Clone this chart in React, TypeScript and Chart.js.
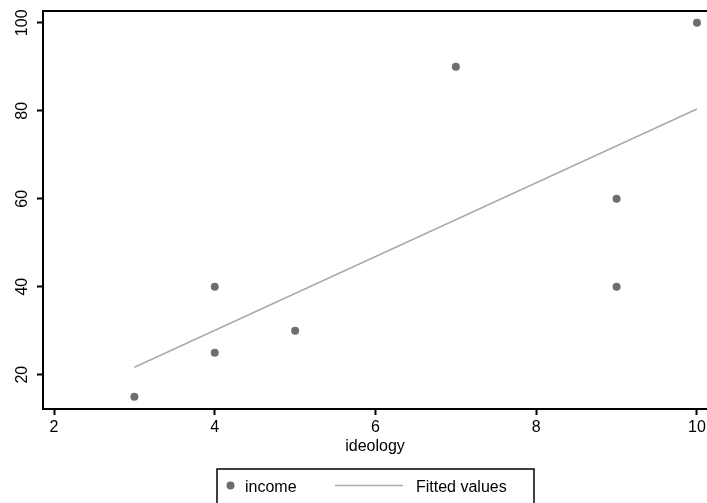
import React, { useEffect, useRef } from "react";
import { Chart, registerables } from "chart.js";

Chart.register(...registerables);

const ideology = [3, 4, 4, 5, 7, 9, 9, 10];
const income = [15, 25, 40, 30, 90, 60, 40, 100];
const fitX = [3, 10];
const fitY = [21.7, 80.4];
const xTicks = [2, 4, 6, 8, 10];
const yTicks = [20, 40, 60, 80, 100];
const seriesLabels = ["income", "Fitted values"];
const xTitle = "ideology";

const FONT = "'Liberation Sans', Arial, Helvetica, sans-serif";
const POINT_COLOR = "#6e6e6e";
const LINE_COLOR = "#aaaaaa";

const framePlugin = {
  id: "frameAndLegend",
  afterDraw(chart: any) {
    const { ctx, chartArea } = chart;
    ctx.save();
    ctx.strokeStyle = "#000";
    ctx.lineWidth = 2;
    ctx.beginPath();
    ctx.moveTo(chartArea.left - 1, chartArea.top);
    ctx.lineTo(chartArea.right + 5, chartArea.top);
    ctx.stroke();

    // legend box
    const bx = 217, by = 469, bw = 317, bh = 50;
    ctx.lineWidth = 1.5;
    ctx.strokeRect(bx, by, bw, bh);
    const ds = chart.data.datasets;
    ctx.fillStyle = POINT_COLOR;
    ctx.beginPath();
    ctx.arc(230.5, 485.5, 4, 0, Math.PI * 2);
    ctx.fill();
    ctx.font = `16px ${FONT}`;
    ctx.fillStyle = "#000";
    ctx.textBaseline = "alphabetic";
    ctx.textAlign = "left";
    ctx.fillText(ds[0].label, 245, 492);
    ctx.strokeStyle = LINE_COLOR;
    ctx.lineWidth = 1.5;
    ctx.beginPath();
    ctx.moveTo(335, 485.5);
    ctx.lineTo(403, 485.5);
    ctx.stroke();
    ctx.fillStyle = "#000";
    ctx.fillText(ds[1].label, 416, 492);
    ctx.restore();
  },
};

export default function App() {
  const ref = useRef<HTMLCanvasElement>(null);
  useEffect(() => {
    if (!ref.current) return;
    const chart = new Chart(ref.current, {
      type: "scatter",
      data: {
        datasets: [
          {
            label: seriesLabels[0],
            data: ideology.map((x, i) => ({ x, y: income[i] })),
            pointRadius: 4,
            pointBackgroundColor: POINT_COLOR,
            pointBorderColor: POINT_COLOR,
            pointBorderWidth: 0,
            showLine: false,
          },
          {
            label: seriesLabels[1],
            data: fitX.map((x, i) => ({ x, y: fitY[i] })),
            showLine: true,
            pointRadius: 0,
            borderColor: LINE_COLOR,
            borderWidth: 1.5,
          },
        ],
      },
      options: {
        animation: false,
        responsive: false,
        layout: { autoPadding: false, padding: { top: 11, left: 0, right: 0, bottom: 0 } },
        plugins: { legend: { display: false }, tooltip: { enabled: false } },
        scales: {
          x: {
            type: "linear",
            min: 1.863,
            max: 10.125,
            afterBuildTicks: (s: any) => {
              s.ticks = xTicks.map((v) => ({ value: v }));
            },
            afterFit: (s: any) => {
              s.height = 94;
              s.paddingLeft = 0;
              s.paddingRight = 0;
              s.paddingTop = 0;
              s.paddingBottom = 0;
            },
            grid: {
              drawOnChartArea: false,
              drawTicks: true,
              tickLength: 6,
              tickColor: "#000",
              tickWidth: 2,
            },
            border: { display: true, color: "#000", width: 2 },
            ticks: {
              color: "#000",
              font: { family: FONT, size: 16 },
              padding: 3,
              maxRotation: 0,
              minRotation: 0,
            },
            title: {
              display: true,
              text: xTitle,
              color: "#000",
              font: { family: FONT, size: 16 },
              padding: { top: 0, bottom: 47 },
            },
          },
          y: {
            type: "linear",
            min: 12.2,
            max: 102.68,
            afterBuildTicks: (s: any) => {
              s.ticks = yTicks.map((v) => ({ value: v }));
            },
            afterFit: (s: any) => {
              s.width = 43;
              s.paddingLeft = 0;
              s.paddingRight = 0;
              s.paddingTop = 0;
              s.paddingBottom = 0;
            },
            grid: {
              drawOnChartArea: false,
              drawTicks: true,
              tickLength: 6,
              tickColor: "#000",
              tickWidth: 2,
            },
            border: { display: true, color: "#000", width: 2 },
            ticks: {
              color: "#000",
              font: { family: FONT, size: 16 },
              padding: 1,
              minRotation: 90,
              maxRotation: 90,
              crossAlign: "center",
            },
          },
        },
      },
      plugins: [framePlugin],
    } as any);
    return () => chart.destroy();
  }, []);
  return (
    <div style={{ position: "fixed", left: 0, top: 0, width: 707, height: 503, background: "#fff" }}>
      <canvas ref={ref} width={707} height={503} />
    </div>
  );
}
